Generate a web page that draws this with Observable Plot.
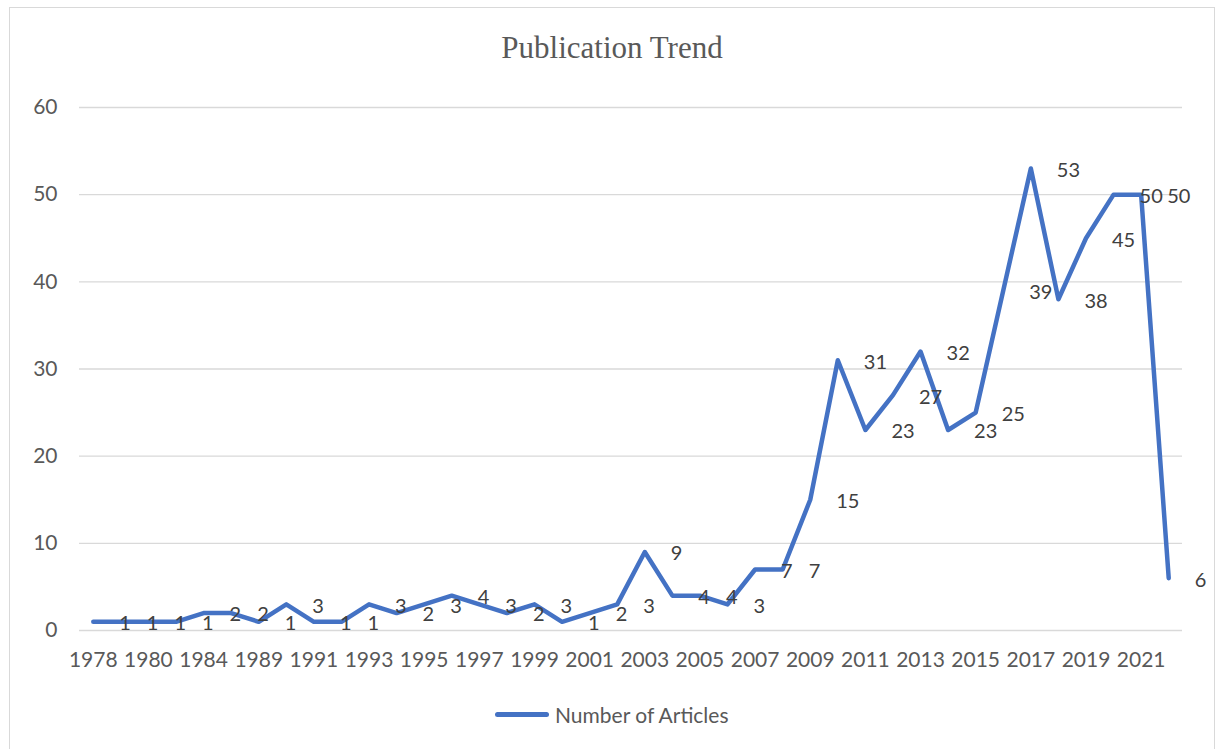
<!DOCTYPE html>
<html>
<head>
<meta charset="utf-8">
<script src="https://cdn.jsdelivr.net/npm/d3@7"></script>
<script src="https://cdn.jsdelivr.net/npm/@observablehq/plot@0.6"></script>
<style>
  body { margin: 0; background: #fff; width: 1220px; height: 749px; overflow: hidden; position: relative; }
  #frame { position: absolute; left: 9px; top: 7px; width: 1206px; height: 760px; border: 1.5px solid #d9d9d9; box-sizing: border-box; }
  #title { position: absolute; left: 9px; width: 1206px; top: 33px; text-align: center; font-family: "Liberation Serif", serif; font-size: 31px; line-height: 30px; color: #595959; }
  #chart { position: absolute; left: 0; top: 80px; }
  #legend { position: absolute; left: 495px; top: 700px; height: 28px; display: flex; align-items: center; font-family: Lato, sans-serif; font-size: 21px; color: #595959; }
  #legend .sw { width: 54px; height: 5px; border-radius: 3px; background: #4472C4; margin-right: 6px; }
</style>
</head>
<body>
<div id="frame"></div>
<div id="title">Publication Trend</div>
<div id="chart"></div>
<div id="legend"><span class="sw"></span><span>Number of Articles</span></div>
<script>
const years = ["1978","1979","1980","1982","1984","1987","1989","1990","1991","1992",
  "1993","1994","1995","1996","1997","1998","1999","2000","2001","2002",
  "2003","2004","2005","2006","2007","2008","2009","2010","2011","2012",
  "2013","2014","2015","2016","2017","2018","2019","2020","2021","2022"];
const articles = [1,1,1,1,2,2,1,3,1,1,
  3,2,3,4,3,2,3,1,2,3,
  9,4,4,3,7,7,15,31,23,27,
  32,23,25,39,53,38,45,50,50,6];
const yTicks = [0,10,20,30,40,50,60];
const xTickLabels = years.filter((d, i) => i % 2 === 0);

const data = years.map((y, i) => ({year: y, n: articles[i]}));

const chart = Plot.plot({
  width: 1220,
  height: 610,
  marginTop: 27,
  marginBottom: 60,
  marginLeft: 79,
  marginRight: 38,
  style: {fontFamily: "Lato, sans-serif", fontSize: "21px", color: "#595959", background: "transparent"},
  x: {type: "point", domain: years, padding: 0.5, round: false, label: null},
  y: {domain: [0, 60], label: null},
  marks: [
    Plot.ruleY(yTicks, {stroke: "#d9d9d9", strokeWidth: 1.3}),
    Plot.axisY({ticks: yTicks, tickSize: 0, tickPadding: 22, label: null, fill: "#595959"}),
    Plot.axisX({ticks: xTickLabels, tickSize: 0, tickPadding: 22, label: null, fill: "#595959"}),
    Plot.line(data, {x: "year", y: "n", stroke: "#4472C4", strokeWidth: 4.5}),
    Plot.text(data, {x: "year", y: "n", text: d => String(d.n), textAnchor: "start", dx: 26, dy: 2, fill: "#404040", fontSize: 20})
  ]
});
document.getElementById("chart").appendChild(chart);
</script>
</body>
</html>
